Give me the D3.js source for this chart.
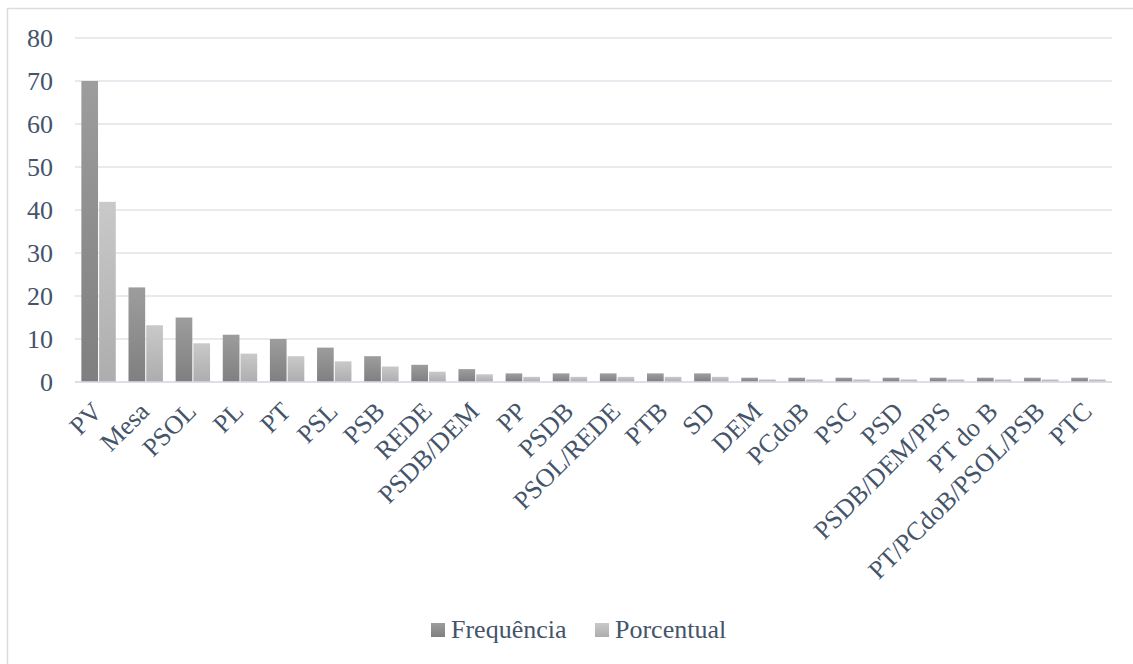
<!DOCTYPE html>
<html><head><meta charset="utf-8">
<script src="https://cdn.jsdelivr.net/npm/d3@7"></script>
<style>body{margin:0;background:#fff}svg{display:block}</style>
</head><body>
<svg id="c" width="1133" height="664"></svg>
<script>
const categories = ["PV","Mesa","PSOL","PL","PT","PSL","PSB","REDE","PSDB/DEM","PP","PSDB","PSOL/REDE","PTB","SD","DEM","PCdoB","PSC","PSD","PSDB/DEM/PPS","PT do B","PT/PCdoB/PSOL/PSB","PTC"];
const frequencia = [70,22,15,11,10,8,6,4,3,2,2,2,2,2,1,1,1,1,1,1,1,1];
const porcentual = [41.9,13.2,9.0,6.6,6.0,4.8,3.6,2.4,1.8,1.2,1.2,1.2,1.2,1.2,0.6,0.6,0.6,0.6,0.6,0.6,0.6,0.6];
const seriesNames = ["Frequência","Porcentual"];
const yTicks = [0,10,20,30,40,50,60,70,80];

const svg = d3.select("#c");
const textColor = "#44546a";
const FONT = '"Liberation Serif", "Times New Roman", serif';
const FS = "26px";
const m = {l:75, r:1112, t:38, b:382};

svg.append("rect").attr("x",7.5).attr("y",8.5).attr("width",1140).attr("height",670)
  .attr("fill","#fff").attr("stroke","#d9dde3").attr("stroke-width",1.5);

const defs = svg.append("defs");
const g1 = defs.append("linearGradient").attr("id","gF").attr("x1",0).attr("y1",0).attr("x2",0).attr("y2",1);
g1.append("stop").attr("offset","0").attr("stop-color","#9d9d9d");
g1.append("stop").attr("offset","1").attr("stop-color","#7f7f7f");
const g2 = defs.append("linearGradient").attr("id","gP").attr("x1",0).attr("y1",0).attr("x2",0).attr("y2",1);
g2.append("stop").attr("offset","0").attr("stop-color","#c9c9c9");
g2.append("stop").attr("offset","1").attr("stop-color","#adadad");

const x = d3.scaleBand().domain(categories).range([m.l, m.r]).paddingInner(0.27).paddingOuter(0.135);
const xs = d3.scaleBand().domain(seriesNames).range([0, x.bandwidth()]).paddingInner(0.06);
const y = d3.scaleLinear().domain([0,80]).range([m.b, m.t]);

svg.append("g").selectAll("line").data(yTicks).join("line")
  .attr("x1",m.l).attr("x2",m.r).attr("y1",d=>y(d)).attr("y2",d=>y(d))
  .attr("stroke","#dfe3e8").attr("stroke-width",1.3);

const yAxis = d3.axisLeft(y).tickValues(yTicks).tickSize(0).tickPadding(0);
const ya = svg.append("g").attr("transform",`translate(${m.l-22},0)`).call(yAxis);
ya.select(".domain").remove();
ya.selectAll("text").attr("fill",textColor).style("font-family",FONT).style("font-size",FS).attr("dy","0.33em");

const data = categories.map((c,i)=>({c, vals:[frequencia[i], porcentual[i]]}));
const grp = svg.append("g").selectAll("g").data(data).join("g")
  .attr("transform",d=>`translate(${x(d.c)},0)`);
grp.selectAll("rect").data(d=>d.vals.map((v,j)=>({v,s:seriesNames[j],j}))).join("rect")
  .attr("x",d=>xs(d.s)).attr("width",xs.bandwidth())
  .attr("y",d=>y(d.v)).attr("height",d=>y(0)-y(d.v))
  .attr("fill",d=>d.j===0?"url(#gF)":"url(#gP)");

svg.append("line").attr("x1",m.l).attr("x2",m.r).attr("y1",y(0)).attr("y2",y(0))
  .attr("stroke","#d9dde3").attr("stroke-width",1.5);

const xAxis = d3.axisBottom(x).tickSize(0).tickPadding(0);
const xa = svg.append("g").attr("transform",`translate(0,${m.b})`).call(xAxis);
xa.select(".domain").remove();
xa.selectAll("text").attr("fill",textColor).style("font-family",FONT).style("font-size",FS)
  .attr("text-anchor","end").attr("dy",null).attr("y",0)
  .attr("transform","translate(5,31) rotate(-45)");

const leg = svg.append("g");
const legX = [431, 595];
seriesNames.forEach((s,i)=>{
  leg.append("rect").attr("x",legX[i]).attr("y",623).attr("width",14).attr("height",14)
    .attr("fill", i===0?"url(#gF)":"url(#gP)");
  leg.append("text").attr("x",legX[i]+20).attr("y",638).text(s)
    .attr("fill",textColor).style("font-family",FONT).style("font-size",FS);
});
</script>
</body></html>
